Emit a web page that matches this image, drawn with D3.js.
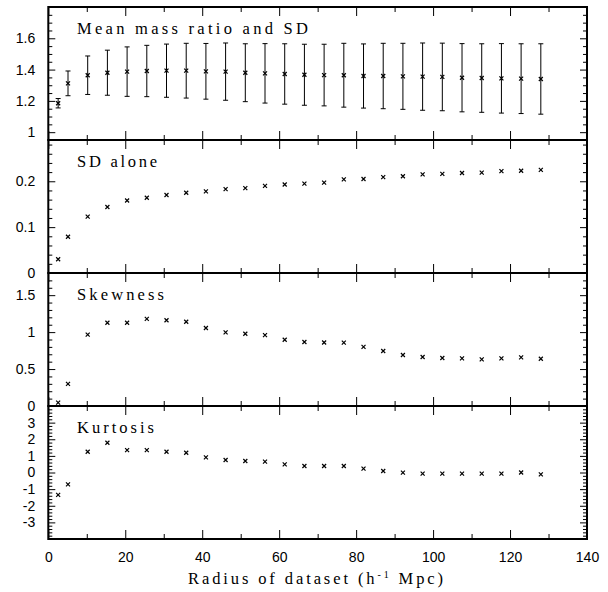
<!DOCTYPE html>
<html>
<head>
<meta charset="utf-8">
<script src="https://cdn.jsdelivr.net/npm/d3@7"></script>
<style>
  html, body { margin: 0; padding: 0; background: #fff; }
  svg { display: block; }
</style>
</head>
<body>
<svg id="chart" width="608" height="592"></svg>
<script>
// ---------------- data ----------------
const radius = [2.56, 5.12, 10.24, 15.36, 20.48, 25.6, 30.72, 35.84, 40.96, 46.08, 51.2, 56.32, 61.44,
                66.56, 71.68, 76.8, 81.92, 87.04, 92.16, 97.28, 102.4, 107.52, 112.64, 117.76, 122.88, 128];
const meanRatio = [1.185, 1.312, 1.364, 1.380, 1.387, 1.391, 1.393, 1.393, 1.389, 1.387, 1.380, 1.376, 1.372,
                   1.367, 1.365, 1.364, 1.359, 1.359, 1.357, 1.355, 1.353, 1.348, 1.346, 1.344, 1.342, 1.340];
const sdAlone = [0.030, 0.079, 0.123, 0.144, 0.158, 0.164, 0.170, 0.175, 0.178, 0.183, 0.185, 0.190, 0.193,
                 0.195, 0.197, 0.204, 0.205, 0.209, 0.211, 0.215, 0.216, 0.218, 0.219, 0.222, 0.223, 0.225];
const skewness = [0.045, 0.30, 0.965, 1.127, 1.127, 1.18, 1.16, 1.14, 1.055, 0.997, 0.978, 0.96, 0.897,
                  0.866, 0.86, 0.857, 0.80, 0.744, 0.69, 0.663, 0.65, 0.645, 0.632, 0.645, 0.659, 0.64];
const kurtosis = [-1.35, -0.71, 1.25, 1.79, 1.35, 1.35, 1.25, 1.19, 0.91, 0.75, 0.69, 0.65, 0.49,
                  0.39, 0.39, 0.39, 0.23, 0.09, -0.01, -0.07, -0.07, -0.07, -0.07, -0.07, 0.0, -0.11];

const panelTitles = ["Mean mass ratio and SD", "SD alone", "Skewness", "Kurtosis"];
const xTicks = [0, 20, 40, 60, 80, 100, 120, 140];
const xMinorTicks = [10, 30, 50, 70, 90, 110, 130];
const yTicks1 = [1, 1.2, 1.4, 1.6, 1.8];
const yLabels1 = ["1", "1.2", "1.4", "1.6", ""];
const yTicks2 = [0, 0.1, 0.2];
const yLabels2 = ["0", "0.1", "0.2"];
const yTicks3 = [0, 0.5, 1, 1.5];
const yLabels3 = ["0", "0.5", "1", "1.5"];
const yTicks4 = [-3, -2, -1, 0, 1, 2, 3];
const yLabels4 = ["-3", "-2", "-1", "0", "1", "2", "3"];
const xTitle = "Radius of dataset (h";
const xTitleSup = "-1";
const xTitleEnd = " Mpc)";

// ---------------- layout ----------------
const svg = d3.select("#chart");
const L = 48.3, R = 587, T = 7, PH = 133;
const x = d3.scaleLinear().domain([0, 140]).range([L, R]);

const panels = [
  { title: panelTitles[0], domain: [0.95, 1.8], ticks: yTicks1, labels: yLabels1, minorStep: 0.05, values: meanRatio, err: sdAlone, tw: 231 },
  { title: panelTitles[1], domain: [0, 0.29], ticks: yTicks2, labels: yLabels2, minorStep: 0.02, values: sdAlone, tw: 80 },
  { title: panelTitles[2], domain: [0, 1.8], ticks: yTicks3, labels: yLabels3, minorStep: 0.1, values: skewness, tw: 87 },
  { title: panelTitles[3], domain: [-4, 4], ticks: yTicks4, labels: yLabels4, minorStep: 0.2, values: kurtosis, tw: 77 }
];

function minorTicks(domain, step, majors) {
  const out = [];
  const n0 = Math.ceil(domain[0] / step - 1e-9), n1 = Math.floor(domain[1] / step + 1e-9);
  for (let i = n0; i <= n1; i++) {
    const v = +(i * step).toFixed(6);
    if (!majors.some(m => Math.abs(m - v) < 1e-6)) out.push(v);
  }
  return out;
}

function styleAxis(g) {
  g.select(".domain").remove();
  g.selectAll(".tick line").attr("stroke", "#000").attr("stroke-width", 1);
  g.selectAll(".tick text")
    .attr("fill", "#000")
    .style("font-family", "'Liberation Sans', Arial, sans-serif")
    .style("font-size", "14px");
}

panels.forEach((p, i) => {
  const top = T + i * PH, bot = top + PH;
  const y = d3.scaleLinear().domain(p.domain).range([bot, top]);
  const g = svg.append("g");

  const minors = minorTicks(p.domain, p.minorStep, p.ticks);
  g.append("g").attr("transform", `translate(${L},0)`)
    .call(d3.axisLeft(y).tickValues(p.ticks).tickSizeInner(-7).tickSizeOuter(0).tickPadding(13)
      .tickFormat((d, k) => p.labels[k]))
    .call(styleAxis);
  g.append("g").attr("transform", `translate(${L},0)`)
    .call(d3.axisLeft(y).tickValues(minors).tickSizeInner(-4).tickSizeOuter(0).tickFormat(""))
    .call(styleAxis);
  g.append("g").attr("transform", `translate(${R},0)`)
    .call(d3.axisRight(y).tickValues(p.ticks).tickSizeInner(-7).tickSizeOuter(0).tickFormat(""))
    .call(styleAxis);
  g.append("g").attr("transform", `translate(${R},0)`)
    .call(d3.axisRight(y).tickValues(minors).tickSizeInner(-4).tickSizeOuter(0).tickFormat(""))
    .call(styleAxis);

  g.append("g").attr("transform", `translate(0,${top})`)
    .call(d3.axisTop(x).tickValues(xTicks).tickSizeInner(-9).tickSizeOuter(0).tickFormat(""))
    .call(styleAxis);
  g.append("g").attr("transform", `translate(0,${top})`)
    .call(d3.axisTop(x).tickValues(xMinorTicks).tickSizeInner(-5).tickSizeOuter(0).tickFormat(""))
    .call(styleAxis);
  g.append("g").attr("transform", `translate(0,${bot})`)
    .call(d3.axisBottom(x).tickValues(xTicks).tickSizeInner(-9).tickSizeOuter(0)
      .tickPadding(i === 3 ? 13 : 0)
      .tickFormat(i === 3 ? (d => String(d)) : ""))
    .call(styleAxis);
  g.append("g").attr("transform", `translate(0,${bot})`)
    .call(d3.axisBottom(x).tickValues(xMinorTicks).tickSizeInner(-5).tickSizeOuter(0).tickFormat(""))
    .call(styleAxis);

  g.append("rect").attr("x", L).attr("y", top).attr("width", R - L).attr("height", PH)
    .attr("fill", "none").attr("stroke", "#000").attr("stroke-width", 2);

  if (p.err) {
    const eb = g.append("g").attr("stroke", "#000").attr("stroke-width", 1);
    radius.forEach((r, k) => {
      const cx = x(r), y1 = y(p.values[k] + p.err[k]), y0 = y(p.values[k] - p.err[k]);
      eb.append("line").attr("x1", cx).attr("x2", cx).attr("y1", y1).attr("y2", y0);
      eb.append("line").attr("x1", cx - 2.5).attr("x2", cx + 2.5).attr("y1", y1).attr("y2", y1);
      eb.append("line").attr("x1", cx - 2.5).attr("x2", cx + 2.5).attr("y1", y0).attr("y2", y0);
    });
  }

  const s = 2;
  g.append("g").selectAll("path").data(radius).join("path")
    .attr("d", (r, k) => {
      const cx = x(r), cy = y(p.values[k]);
      return `M${cx - s},${cy - s}L${cx + s},${cy + s}M${cx - s},${cy + s}L${cx + s},${cy - s}`;
    })
    .attr("stroke", "#000").attr("stroke-width", 1.2).attr("fill", "none");

  g.append("text").attr("x", 77).attr("y", top + 26.5)
    .attr("textLength", p.tw).attr("lengthAdjust", "spacing")
    .style("font-family", "'Liberation Serif', 'Times New Roman', serif")
    .style("font-size", "16.5px").attr("fill", "#000")
    .text(p.title);
});

const tt = svg.append("text").attr("x", 188).attr("y", 584)
  .attr("textLength", 255).attr("lengthAdjust", "spacing")
  .style("font-family", "'Liberation Serif', 'Times New Roman', serif")
  .style("font-size", "16.5px").attr("fill", "#000");
tt.append("tspan").text(xTitle);
tt.append("tspan").attr("dy", -6).style("font-size", "10px").text(xTitleSup);
tt.append("tspan").attr("dy", 6).text(xTitleEnd);
</script>
</body>
</html>
